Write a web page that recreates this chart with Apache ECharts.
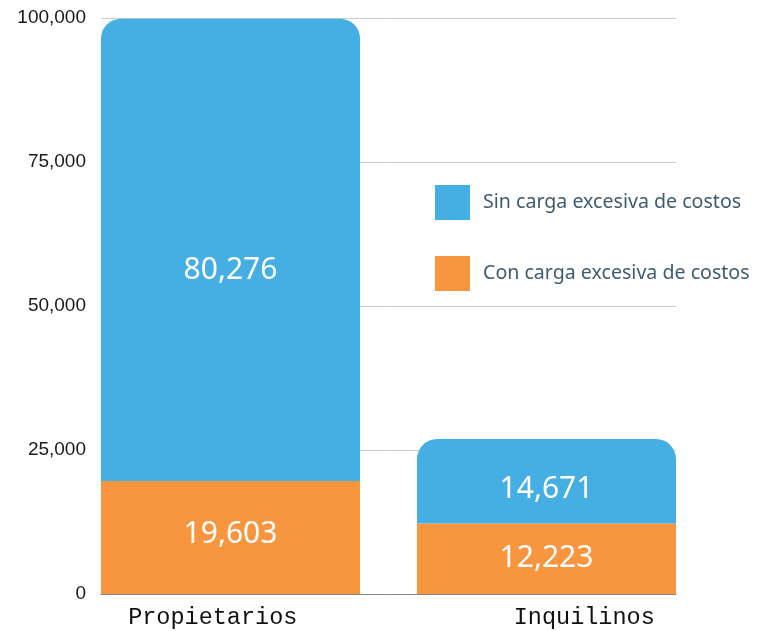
<!DOCTYPE html>
<html>
<head>
<meta charset="utf-8">
<script src="https://cdn.jsdelivr.net/npm/echarts@6/dist/echarts.min.js"></script>
<style>html,body{margin:0;padding:0;background:#fff}#c{width:761px;height:631px}</style>
</head>
<body>
<div id="c"></div>
<script>
var categories = ['Propietarios', 'Inquilinos'];
var seriesNames = ['Sin carga excesiva de costos', 'Con carga excesiva de costos'];
var sinCarga = [80276, 14671];
var conCarga = [19603, 12223];
var yTicks = [0, 25000, 50000, 75000, 100000];

var BLUE = '#45AEE2', ORANGE = '#F7963F';
var labelFont = {color: '#fff', fontSize: 30, fontFamily: 'Noto Sans', show: true, position: 'inside',
  formatter: function (p) { return p.value.toLocaleString('en-US'); }};
var conOffsets = [[0, -3], [0, 0]];
var sinOffsets = [[0, 21], [0, 8]];

var series = [];
categories.forEach(function (cat, i) {
  series.push({
    name: seriesNames[1], type: 'bar', stack: cat, xAxisIndex: 1,
    data: [conCarga[i]], itemStyle: {color: ORANGE},
    label: Object.assign({}, labelFont, {offset: conOffsets[i]}), barGap: '22%', barCategoryGap: '0%'
  });
  series.push({
    name: seriesNames[0], type: 'bar', stack: cat, xAxisIndex: 1,
    data: [sinCarga[i]], itemStyle: {color: BLUE, borderRadius: [20, 20, 0, 0]},
    label: Object.assign({}, labelFont, {offset: sinOffsets[i]}),
    barGap: '22%', barCategoryGap: '0%'
  });
});

var chart = echarts.init(document.getElementById('c'));
chart.setOption({
  animation: false,
  grid: {left: 101, right: 85, top: 18, bottom: 37},
  legend: {
    orient: 'vertical', left: 430, top: 180, itemWidth: 35, itemHeight: 35, itemGap: 36,
    icon: 'rect', data: seriesNames,
    textStyle: {color: '#3F5B70', fontSize: 19.6, fontFamily: 'Noto Sans', padding: [0, 0, 0, 8]}
  },
  xAxis: [{
    type: 'category', data: categories,
    axisTick: {show: false},
    axisLine: {lineStyle: {color: '#888', width: 1}},
    axisLabel: {
      margin: 12,
      formatter: function (v, i) { return '{c' + i + '|' + v + '}'; },
      rich: {
        c0: {fontFamily: 'Liberation Mono', fontSize: 23.5, color: '#111', padding: [0, 64, 0, 0]},
        c1: {fontFamily: 'Liberation Mono', fontSize: 23.5, color: '#111', padding: [0, 0, 0, 104]}
      }
    }
  }, {
    type: 'category', data: [''], show: false
  }],
  yAxis: {
    type: 'value', min: yTicks[0], max: yTicks[yTicks.length - 1], interval: yTicks[1] - yTicks[0],
    axisLine: {show: false}, axisTick: {show: false},
    splitLine: {lineStyle: {color: '#cccccc'}},
    axisLabel: {
      margin: 15, fontSize: 19, fontFamily: 'Liberation Sans', color: '#1a1a1a', padding: [6, 0, 0, 0],
      formatter: function (v) { return v.toLocaleString('en-US'); }
    }
  },
  series: series
});
</script>
</body>
</html>
